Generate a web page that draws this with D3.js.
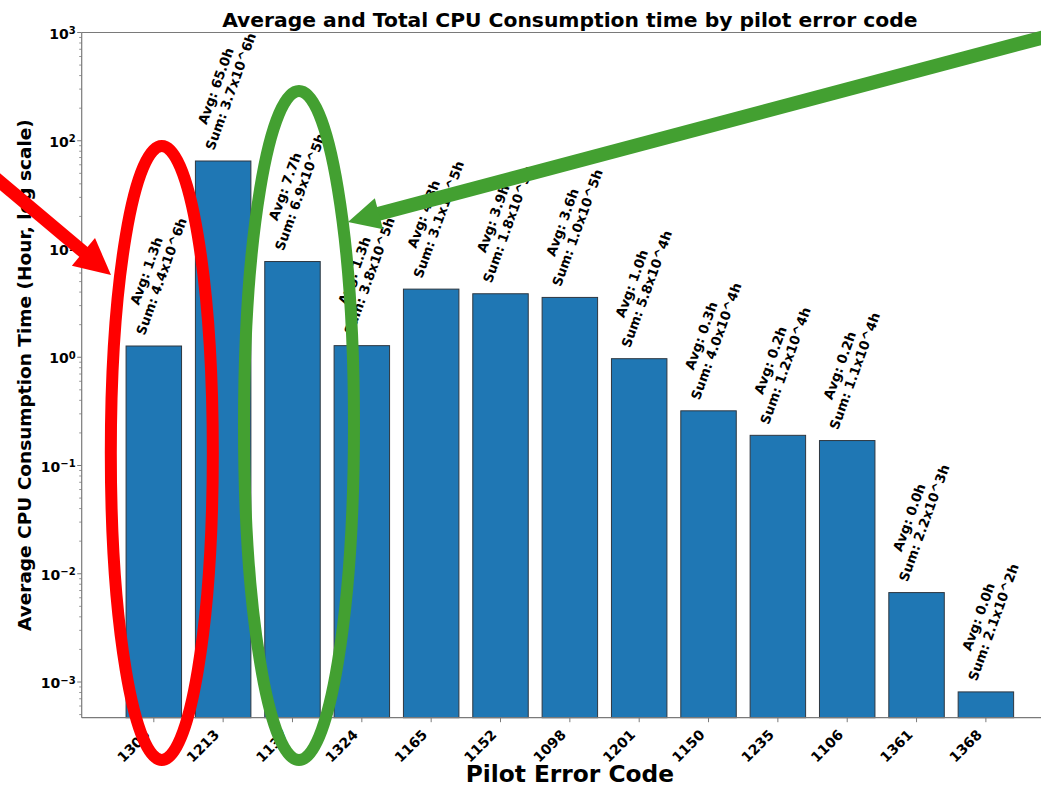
<!DOCTYPE html>
<html>
<head>
<meta charset="utf-8">
<script src="https://cdn.jsdelivr.net/npm/d3@7"></script>
<style>
  html, body { margin: 0; padding: 0; background: #fff; }
  svg { display: block; font-family: "DejaVu Sans", sans-serif; }
</style>
</head>
<body>
<svg id="chart" width="1041" height="786"></svg>
<script>
// Pilot error codes, ordered by total CPU consumption
const categories = ["1305", "1213", "1137", "1324", "1165", "1152", "1098", "1201", "1150", "1235", "1106", "1361", "1368"];
// Average CPU consumption per job (hours)
const avgHours = [1.27, 65.0, 7.66, 1.28, 4.26, 3.86, 3.57, 0.97, 0.32, 0.19, 0.17, 0.0067, 0.00081];
// Total CPU consumption (hours)
const sumHours = [4.4e6, 3.7e6, 6.9e5, 3.8e5, 3.1e5, 1.8e5, 1.0e5, 5.8e4, 4.0e4, 1.2e4, 1.1e4, 2.2e3, 2.1e2];
// Major ticks on the log axis
const yTicks = [1e-3, 1e-2, 1e-1, 1, 10, 100, 1000];

const titleText = "Average and Total CPU Consumption time by pilot error code";
const xTitle = "Pilot Error Code";
const yTitle = "Average CPU Consumption Time (Hour, log scale)";

const svg = d3.select("#chart");
const W = 1041, H = 786;
const plot = { left: 81.7, right: 1058, top: 32.5, bottom: 717.7 };

svg.append("rect").attr("width", W).attr("height", H).attr("fill", "#fff");

const rows = categories.map((c, i) => ({ code: c, avg: avgHours[i], sum: sumHours[i] }));

const x = d3.scaleBand()
  .domain(categories)
  .range([plot.left, plot.right])
  .paddingInner(0.2)
  .paddingOuter(0.64);

const y = d3.scaleLog()
  .domain([4.68e-4, 1000])
  .range([plot.bottom, plot.top]);

// Bars
svg.append("g").selectAll("rect")
  .data(rows)
  .join("rect")
  .attr("x", d => x(d.code))
  .attr("width", x.bandwidth())
  .attr("y", d => y(d.avg))
  .attr("height", d => plot.bottom - y(d.avg))
  .attr("fill", "#1f77b4")
  .attr("stroke", "#2e3740")
  .attr("stroke-width", 1);

// Value annotations: two centred lines rotated 70°, bounding box sitting above the bar
const fmtSum = v => {
  const e = Math.floor(Math.log10(v) + 1e-9);
  const m = v / Math.pow(10, e);
  return `Sum: ${m.toFixed(1)}x10^${e}h`;
};
const annFont = 13.3, lineH = annFont * 1.2, angle = 70 * Math.PI / 180;
const ann = svg.append("g").attr("font-size", annFont).attr("font-weight", "bold").attr("fill", "#000");
rows.forEach(d => {
  const lines = [`Avg: ${d.avg.toFixed(1)}h`, fmtSum(d.sum)];
  const g = ann.append("g");
  const texts = lines.map((t, k) => g.append("text")
    .attr("text-anchor", "middle")
    .attr("y", (k - 0.5) * lineH)
    .attr("dy", "0.36em")
    .text(t));
  const w = d3.max(texts, t => t.node().getComputedTextLength());
  const h = lines.length * lineH;
  const boxH = w * Math.sin(angle) + h * Math.cos(angle);
  const cx = x(d.code) + x.bandwidth() / 2;
  const cy = y(d.avg) - 9 - boxH / 2;
  g.attr("transform", `translate(${cx},${cy}) rotate(-70)`);
});

// Axes frame
const spine = "#7a7a7a";
svg.append("line").attr("x1", plot.left).attr("x2", plot.right).attr("y1", plot.top).attr("y2", plot.top)
  .attr("stroke", spine).attr("stroke-width", 1.2);
svg.append("line").attr("x1", plot.left).attr("x2", plot.right).attr("y1", plot.bottom).attr("y2", plot.bottom)
  .attr("stroke", spine).attr("stroke-width", 1.2);
svg.append("line").attr("x1", plot.left).attr("x2", plot.left).attr("y1", plot.top).attr("y2", plot.bottom)
  .attr("stroke", spine).attr("stroke-width", 1.2);

// Y axis ticks (major + minor) and labels
const yAxis = svg.append("g");
const [lo, hi] = y.domain();
const minor = [];
for (let e = Math.floor(Math.log10(lo)); e < Math.ceil(Math.log10(hi)); e++) {
  for (let m = 2; m <= 9; m++) {
    const v = m * Math.pow(10, e);
    if (v >= lo && v <= hi) minor.push(v);
  }
}
yAxis.selectAll("line.minor").data(minor).join("line")
  .attr("class", "minor")
  .attr("x1", plot.left - 2.5).attr("x2", plot.left)
  .attr("y1", d => y(d)).attr("y2", d => y(d))
  .attr("stroke", spine).attr("stroke-width", 0.8);
yAxis.selectAll("line.major").data(yTicks).join("line")
  .attr("class", "major")
  .attr("x1", plot.left - 4.5).attr("x2", plot.left)
  .attr("y1", d => y(d)).attr("y2", d => y(d))
  .attr("stroke", spine).attr("stroke-width", 1);
const supText = v => {
  const e = Math.round(Math.log10(v));
  return e < 0 ? "\u2212" + Math.abs(e) : String(e);
};
yAxis.selectAll("text").data(yTicks).join("text")
  .attr("x", plot.left - 6)
  .attr("y", d => y(d) + 1)
  .attr("dy", "0.36em")
  .attr("text-anchor", "end")
  .attr("font-size", 14)
  .attr("font-weight", "bold")
  .each(function (d) {
    const t = d3.select(this);
    t.append("tspan").text("10");
    t.append("tspan").attr("dy", "-0.45em").attr("font-size", 10).text(supText(d));
  });

// X axis ticks and rotated labels
const xAxis = svg.append("g");
xAxis.selectAll("line").data(categories).join("line")
  .attr("x1", d => x(d) + x.bandwidth() / 2).attr("x2", d => x(d) + x.bandwidth() / 2)
  .attr("y1", plot.bottom).attr("y2", plot.bottom + 4.5)
  .attr("stroke", spine).attr("stroke-width", 1);
xAxis.selectAll("text").data(categories).join("text")
  .attr("text-anchor", "end")
  .attr("font-size", 14)
  .attr("font-weight", "bold")
  .attr("transform", d => `translate(${x(d) + x.bandwidth() / 2 - 3},${plot.bottom + 18}) rotate(-45)`)
  .text(d => d);

// Titles
const midX = (plot.left + plot.right) / 2;
svg.append("text").attr("x", midX).attr("y", 27).attr("text-anchor", "middle")
  .attr("font-size", 20.3).attr("font-weight", "bold").text(titleText);
svg.append("text").attr("x", midX).attr("y", 782).attr("text-anchor", "middle")
  .attr("font-size", 23.3).attr("font-weight", "bold").text(xTitle);
svg.append("text").attr("transform", `translate(31,${(plot.top + plot.bottom) / 2}) rotate(-90)`)
  .attr("text-anchor", "middle").attr("font-size", 18.5).attr("font-weight", "bold").text(yTitle);

// Highlight overlays: ellipses around two bars and arrows pointing at them
const red = "#ff0000", green = "#43a031";
const overlay = svg.append("g");
const hiliteRed = { code: "1305", dx: 8, top: 146, bottom: 760, rx: 51 };
const hiliteGreen = { code: "1137", dx: 6.5, top: 91, bottom: 760, rx: 55 };
[[hiliteRed, red], [hiliteGreen, green]].forEach(([e, col]) => {
  overlay.append("ellipse")
    .attr("cx", x(e.code) + x.bandwidth() / 2 + e.dx)
    .attr("cy", (e.top + e.bottom) / 2)
    .attr("rx", e.rx)
    .attr("ry", (e.bottom - e.top) / 2)
    .attr("fill", "none")
    .attr("stroke", col)
    .attr("stroke-width", 12);
});

function arrow(from, to, shaftW, headLen, headHalf, col) {
  const dx = to[0] - from[0], dy = to[1] - from[1];
  const len = Math.hypot(dx, dy);
  const ux = dx / len, uy = dy / len, px = -uy, py = ux;
  const bx = to[0] - ux * headLen, by = to[1] - uy * headLen;
  overlay.append("line")
    .attr("x1", from[0]).attr("y1", from[1])
    .attr("x2", bx + ux * 2).attr("y2", by + uy * 2)
    .attr("stroke", col).attr("stroke-width", shaftW);
  overlay.append("path")
    .attr("d", `M${to[0]},${to[1]} L${bx + px * headHalf},${by + py * headHalf} L${bx - px * headHalf},${by - py * headHalf} Z`)
    .attr("fill", col);
}
arrow([-20, 165], [111, 275], 13, 36, 18, red);
arrow([1065, 31.6], [348, 222], 14, 32, 16, green);
</script>
</body>
</html>
